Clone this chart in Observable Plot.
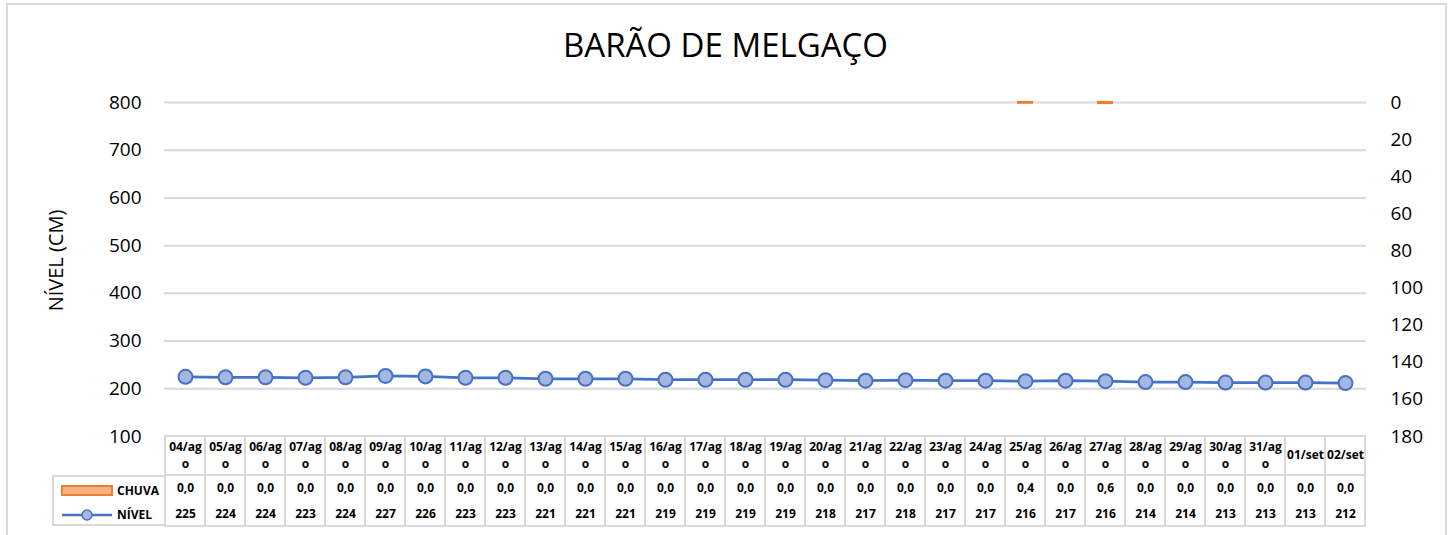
<!DOCTYPE html>
<html>
<head>
<meta charset="utf-8">
<script src="https://cdn.jsdelivr.net/npm/d3@7"></script>
<script src="https://cdn.jsdelivr.net/npm/@observablehq/plot@0.6"></script>
<style>
  body { margin: 0; background: #fff; font-family: "Open Sans", sans-serif; }
  #wrap { position: relative; width: 1451px; height: 535px; overflow: hidden; }
  #border { position: absolute; left: 6px; top: 3px; width: 1441px; height: 540px; border: 2px solid #d9d9d9; box-sizing: border-box; }
  #title { position: absolute; left: 0; width: 1451px; top: 23px; text-align: center; font-size: 33px; color: #000; line-height: 44px; }
  #chart { position: absolute; left: 0; top: 0; }
  #legend { position: absolute; left: 52px; top: 475px; width: 114px; height: 51px; border: 2px solid #d9d9d9; border-right: none; box-sizing: border-box; }
  .lg { position: absolute; left: 0; width: 112px; height: 20px; font-size: 12px; font-weight: bold; color: #000; }
  .lg span { position: absolute; left: 63px; top: 1px; }
  .lg svg { position: absolute; left: 6px; top: 0; }
</style>
</head>
<body>
<div id="wrap">
  <div id="border"></div>
  <div id="chart"></div>
  <div id="title">BARÃO DE MELGAÇO</div>
  <div id="legend">
    <div class="lg" style="top:4px"><svg width="54" height="20"><rect x="2" y="5" width="50" height="9" fill="#F4B183" stroke="#ED7D31" stroke-width="2"/></svg><span>CHUVA</span></div>
    <div class="lg" style="top:28px"><svg width="54" height="20"><line x1="2" x2="52" y1="10" y2="10" stroke="#4472C4" stroke-width="2.5"/><circle cx="27" cy="10" r="5" fill="#A5B6E0" stroke="#4472C4" stroke-width="1.5"/></svg><span>NÍVEL</span></div>
  </div>
</div>
<script>
const dates = ["04/ago","05/ago","06/ago","07/ago","08/ago","09/ago","10/ago","11/ago","12/ago","13/ago",
  "14/ago","15/ago","16/ago","17/ago","18/ago","19/ago","20/ago","21/ago","22/ago","23/ago",
  "24/ago","25/ago","26/ago","27/ago","28/ago","29/ago","30/ago","31/ago","01/set","02/set"];
const chuva = [0,0,0,0,0,0,0,0,0,0, 0,0,0,0,0,0,0,0,0,0, 0,0.4,0,0.6,0,0,0,0,0,0];
const nivel = [225,224,224,223,224,227,226,223,223,221, 221,221,219,219,219,219,218,217,218,217,
  217,216,217,216,214,214,213,213,213,212];
const leftTicks = [100,200,300,400,500,600,700,800];
const rightTicks = [0,20,40,60,80,100,120,140,160,180];

const rows = dates.map((d, i) => ({date: d, chuva: chuva[i], nivel: nivel[i]}));
// right (chuva) axis is reversed 0..180 mapped onto left 800..100
const toLeft = v => 800 - v * 700 / 180;
const wraps = d => d.length > 5 && d.endsWith("ago");
const fmt = v => v.toFixed(1).replace(".", ",");
const cellText = {fontSize: 12, fontWeight: "bold", frameAnchor: "bottom", lineAnchor: "middle", textAnchor: "middle"};

const chart = Plot.plot({
  width: 1451,
  height: 535,
  marginLeft: 164,
  marginRight: 85,
  marginTop: 102,
  marginBottom: 99,
  style: {fontFamily: "'Open Sans', sans-serif", color: "#000", background: "transparent"},
  x: {type: "band", domain: dates, padding: 0, axis: null},
  y: {domain: [100, 800], axis: null},
  marks: [
    Plot.ruleY(leftTicks.filter(v => v > 100), {stroke: "#d9d9d9", strokeWidth: 2}),
    Plot.text(leftTicks, {y: d => d, frameAnchor: "left", dx: -23, textAnchor: "end", lineAnchor: "middle", fontSize: 19}),
    Plot.text(rightTicks, {y: toLeft, text: d => String(d), frameAnchor: "right", dx: 24, textAnchor: "start", lineAnchor: "middle", fontSize: 19}),
    Plot.text(["NÍVEL (CM)"], {frameAnchor: "left", dx: -108, dy: -9, rotate: -90, textAnchor: "middle", lineAnchor: "middle", fontSize: 20}),
    Plot.barY(rows.filter(d => d.chuva > 0), {x: "date", y1: 800, y2: d => toLeft(d.chuva),
      fill: "#F4B183", stroke: "#ED7D31", strokeWidth: 2, insetLeft: 13, insetRight: 13}),
    Plot.line(rows, {x: "date", y: "nivel", stroke: "#4472C4", strokeWidth: 2.75}),
    Plot.dot(rows, {x: "date", y: "nivel", r: 7, fill: "#A5B6E0", stroke: "#4472C4", strokeWidth: 2}),
    // data table grid
    Plot.barY(rows, {x: "date", y1: 100, y2: 100, insetTop: 0, insetBottom: -39, fill: "none", stroke: "#d9d9d9", strokeWidth: 2}),
    Plot.barY(rows, {x: "date", y1: 100, y2: 100, insetTop: 39, insetBottom: -90, fill: "none", stroke: "#d9d9d9", strokeWidth: 2}),
    Plot.text(rows.filter(d => wraps(d.date)), {x: "date", text: d => d.date.slice(0, 5), dy: 11, ...cellText}),
    Plot.text(rows.filter(d => wraps(d.date)), {x: "date", text: d => d.date.slice(5), dy: 28, ...cellText}),
    Plot.text(rows.filter(d => !wraps(d.date)), {x: "date", text: "date", dy: 19, ...cellText}),
    Plot.text(rows, {x: "date", text: d => fmt(d.chuva), dy: 52, ...cellText}),
    Plot.text(rows, {x: "date", text: d => String(d.nivel), dy: 78, ...cellText})
  ]
});
document.getElementById("chart").appendChild(chart);
</script>
</body>
</html>
